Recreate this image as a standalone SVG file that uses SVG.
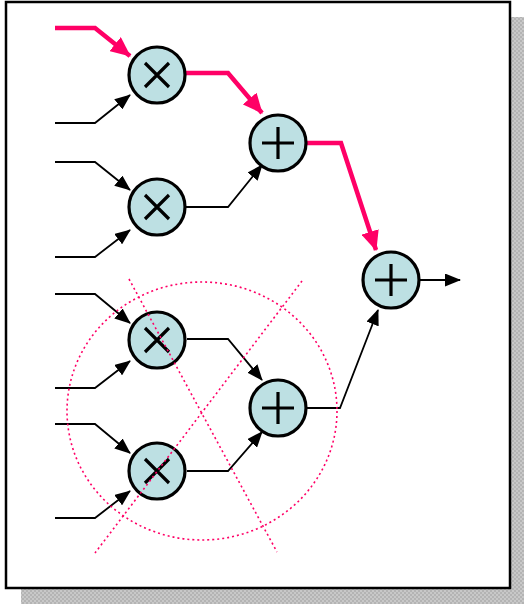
<svg xmlns="http://www.w3.org/2000/svg" width="524" height="604" viewBox="0 0 524 604">
<defs>
<pattern id="hatch" width="4" height="4" patternUnits="userSpaceOnUse">
<rect width="4" height="4" fill="#c8c8c8"/>
<rect width="2" height="2" fill="#b4b4b4"/>
<rect x="2" y="2" width="2" height="2" fill="#b4b4b4"/>
</pattern>
<marker id="ab" markerUnits="userSpaceOnUse" markerWidth="16" markerHeight="13" refX="15" refY="6.5" orient="auto" viewBox="0 0 16 13">
<path d="M0,0 L16,6.5 L0,13 Z" fill="#000"/>
</marker>
<marker id="ap" markerUnits="userSpaceOnUse" markerWidth="20" markerHeight="18" refX="19" refY="9" orient="auto" viewBox="0 0 20 18">
<path d="M0,0 L20,9 L0,18 Z" fill="#ff0066"/>
</marker>
</defs>
<style>
.node{fill:#bde0e3;stroke:#000;stroke-width:3.2}
.sym{stroke:#000;stroke-width:3.2;fill:none}
.wire-a{fill:none;stroke:#000;stroke-width:1.8;marker-end:url(#ab)}
.hot{fill:none;stroke:#ff0066;stroke-width:4.5;marker-end:url(#ap)}
.dot{fill:none;stroke:#ff0066;stroke-width:1.6;stroke-dasharray:2 3}
</style>
<rect x="21" y="17" width="503" height="587" fill="url(#hatch)"/>
<rect x="6" y="2" width="504" height="586" fill="#fff" stroke="#000" stroke-width="2.5"/>

<g id="connectors">
<path class="hot" d="M55,28 H95 L130,56"/>
<path class="wire-a" d="M55,123 H95 L130,95"/>
<path class="wire-a" d="M55,162 H95 L130,190"/>
<path class="wire-a" d="M55,257 H95 L130,230"/>
<path class="hot" d="M186,73 H228 L262,113"/>
<path class="wire-a" d="M186,207 H228 L262,165"/>
<path class="hot" d="M306,143 H341 L376,250"/>
<path class="wire-a" d="M420,280 H460"/>
<path class="wire-a" d="M55,294 H95 L130,323"/>
<path class="wire-a" d="M55,388 H95 L130,361"/>
<path class="wire-a" d="M55,424 H95 L130,453"/>
<path class="wire-a" d="M55,518 H95 L130,491"/>
<path class="wire-a" d="M187,339 H228 L262,380"/>
<path class="wire-a" d="M187,471 H228 L262,432"/>
<path class="wire-a" d="M307,408 H340 L378,310"/>
</g>

<g id="mul1"><circle class="node" cx="157" cy="75" r="28"/><path class="sym" d="M145,63 L169,87 M169,63 L145,87"/></g>
<g id="mul2"><circle class="node" cx="157" cy="207" r="28"/><path class="sym" d="M145,195 L169,219 M169,195 L145,219"/></g>
<g id="mul3"><circle class="node" cx="157" cy="340" r="28"/><path class="sym" d="M145,328 L169,352 M169,328 L145,352"/></g>
<g id="mul4"><circle class="node" cx="157" cy="471" r="28"/><path class="sym" d="M145,459 L169,483 M169,459 L145,483"/></g>
<g id="add1"><circle class="node" cx="278" cy="143" r="28"/><path class="sym" d="M262,143 H294 M278,127 V159"/></g>
<g id="add2"><circle class="node" cx="278" cy="408" r="28"/><path class="sym" d="M262,408 H294 M278,392 V424"/></g>
<g id="add3"><circle class="node" cx="391" cy="280" r="28"/><path class="sym" d="M375,280 H407 M391,264 V296"/></g>

<g id="crossout">
<ellipse class="dot" cx="202" cy="411" rx="135" ry="129"/>
<path class="dot" d="M129,279 L277,552"/>
<path class="dot" d="M302,281 L95,553"/>
</g>
</svg>
